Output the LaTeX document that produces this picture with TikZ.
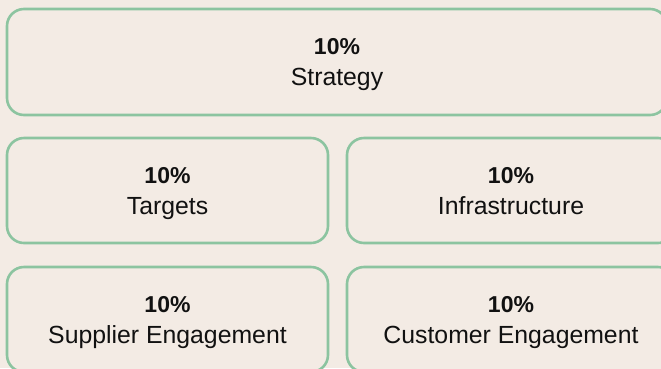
\documentclass[tikz,border=0pt]{standalone}
\usepackage{fontspec}
\setmainfont{Liberation Sans}
\definecolor{bg}{RGB}{243,235,228}
\definecolor{frame}{RGB}{140,196,160}
\definecolor{ink}{RGB}{17,17,17}
\tikzset{
  card/.style={draw=frame, line width=2.6pt, rounded corners=17pt, fill=bg,
    inner sep=0pt, align=center, text=ink, text depth=0pt,
    font=\fontsize{24.8}{31}\selectfont},
}
\newcommand{\cardtext}[1]{{\fontsize{23}{31}\selectfont\bfseries 10\%}\\#1}
\begin{document}
\begin{tikzpicture}[x=1pt,y=-1pt]
\useasboundingbox (0,0) rectangle (661,368);
\fill[bg] (0,0) rectangle (661,368);
\clip (0,0) rectangle (661,368);
\node[card, minimum width=660pt, minimum height=106pt] (strategy) at (337,62) {\cardtext{Strategy}};
\node[card, minimum width=321pt, minimum height=105pt] (targets) at (167.5,190.5) {\cardtext{Targets}};
\node[card, minimum width=328pt, minimum height=105pt] (infra) at (511,190.5) {\cardtext{Infrastructure}};
\node[card, minimum width=321pt, minimum height=105pt] (supplier) at (167.5,319.5) {\cardtext{Supplier Engagement}};
\node[card, minimum width=328pt, minimum height=105pt] (customer) at (511,319.5) {\cardtext{Customer Engagement}};
\end{tikzpicture}
\end{document}
